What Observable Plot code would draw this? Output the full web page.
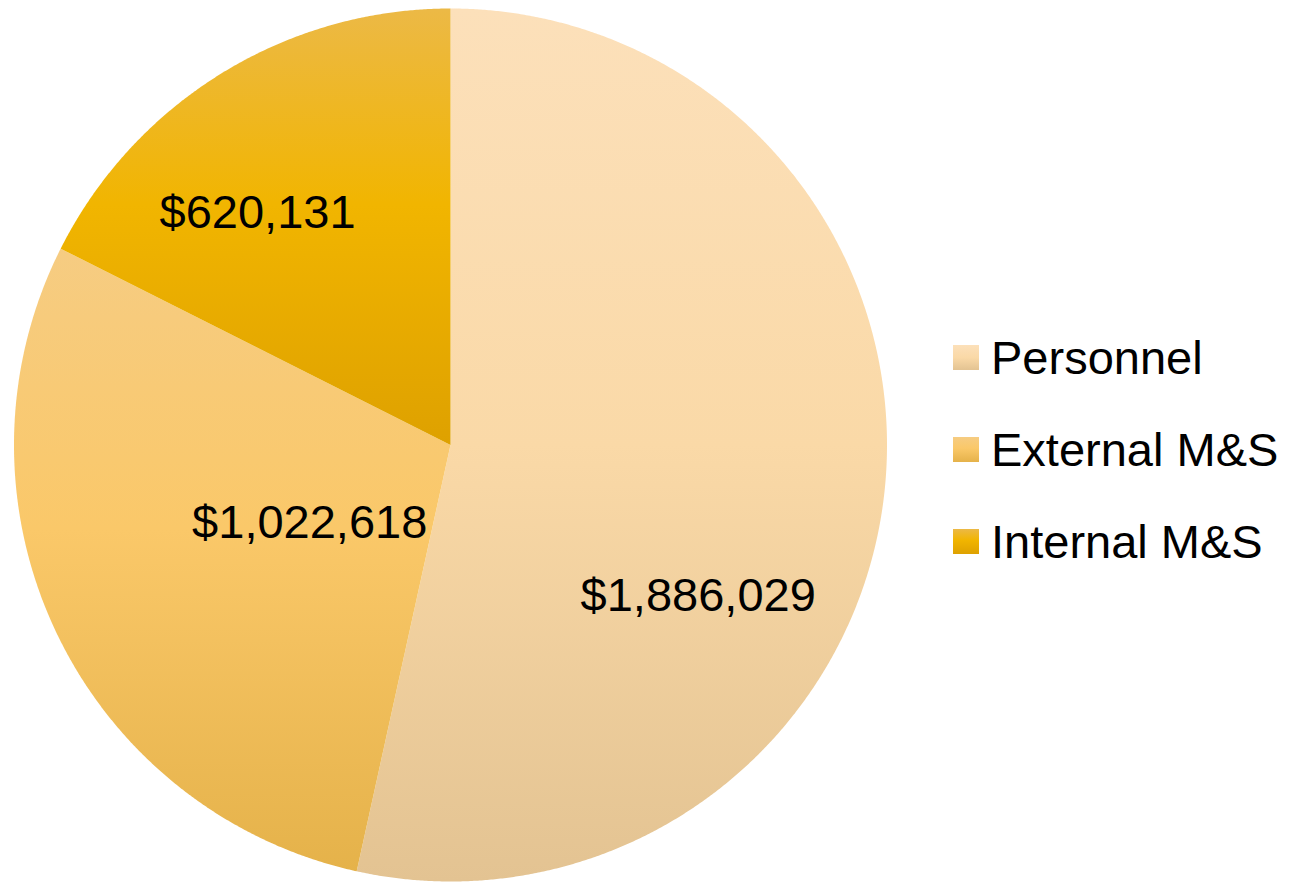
<!DOCTYPE html>
<html>
<head>
<meta charset="utf-8">
<script src="https://cdn.jsdelivr.net/npm/d3@7"></script>
<script src="https://cdn.jsdelivr.net/npm/@observablehq/plot@0.6"></script>
<style>
  body { margin: 0; background: #fff; }
  #wrap { position: relative; width: 1289px; height: 882px; font-family: "Liberation Sans", Arial, sans-serif; }
  #legend { position: absolute; left: 953px; top: 311px; }
  .row { height: 92px; display: flex; align-items: center; }
  .sw { width: 26px; height: 25px; margin-right: 12px; }
  .lab { font-size: 47px; color: #000; line-height: 1; }
</style>
</head>
<body>
<div id="wrap"><div id="legend"></div></div>
<script>
// ---- data ----
const categories = ["Personnel", "External M&S", "Internal M&S"];
const values = [1886029, 1022618, 620131];
const labels = ["$1,886,029", "$1,022,618", "$620,131"];

// ---- style / layout ----
const gradientStops = [
  [["0%", "#FCE0BA"], ["50%", "#FAD9A7"], ["100%", "#E3C392"]],
  [["0%", "#F6CC82"], ["45%", "#FAC869"], ["100%", "#E5B24A"]],
  [["0%", "#ECB946"], ["45%", "#F1B500"], ["100%", "#DEA100"]]
];
// label anchor per slice: angle (deg clockwise from top) and radius fraction
const labelAnchor = [
  {angle: 121.0, r: 0.662},
  {angle: 241.5, r: 0.367},
  {angle: 320.5, r: 0.695}
];

const total = d3.sum(values);
const rad = Math.PI / 180;
const pt = (deg, r = 1) => [r * Math.sin(deg * rad), r * Math.cos(deg * rad)];

let acc = 0;
const slices = categories.map((c, i) => {
  const a0 = acc / total * 360;
  acc += values[i];
  const a1 = acc / total * 360;
  const ring = [[0, 0]];
  const n = Math.max(2, Math.ceil((a1 - a0) / 0.25));
  for (let k = 0; k <= n; k++) ring.push(pt(a0 + (a1 - a0) * k / n));
  ring.push([0, 0]);
  return {type: "Feature", properties: {name: c, i}, geometry: {type: "Polygon", coordinates: [ring]}};
});

const circleRing = d3.range(0, 361, 1).map(a => pt(a));
const circle = {type: "Feature", geometry: {type: "Polygon", coordinates: [circleRing]}};

const labelData = labels.map((t, i) => {
  const [x, y] = pt(labelAnchor[i].angle, labelAnchor[i].r);
  return {t, x, y};
});

const ns = "http://www.w3.org/2000/svg";
const defsMark = () => {
  const defs = document.createElementNS(ns, "defs");
  gradientStops.forEach((stops, i) => {
    const g = document.createElementNS(ns, "linearGradient");
    g.setAttribute("id", "grad" + i);
    g.setAttribute("x1", "0"); g.setAttribute("y1", "0");
    g.setAttribute("x2", "0"); g.setAttribute("y2", "1");
    stops.forEach(([o, c]) => {
      const s = document.createElementNS(ns, "stop");
      s.setAttribute("offset", o);
      s.setAttribute("stop-color", c);
      g.appendChild(s);
    });
    defs.appendChild(g);
  });
  return defs;
};

const chart = Plot.plot({
  width: 900,
  height: 882,
  marginTop: 8,
  marginBottom: 1,
  marginLeft: 13,
  marginRight: 13,
  projection: {type: "reflect-y", domain: circle},
  style: {fontFamily: "'Liberation Sans', Arial, sans-serif", background: "#fff"},
  marks: [
    defsMark,
    ...slices.map((s, i) => Plot.geo([s], {fill: `url(#grad${i})`, stroke: "none"})),
    Plot.text(labelData, {x: "x", y: "y", text: "t", fontSize: 47, fill: "#000", dy: 2})
  ]
});
document.getElementById("wrap").prepend(chart);

// legend
const legend = document.getElementById("legend");
categories.forEach((c, i) => {
  const row = document.createElement("div");
  row.className = "row";
  const sw = document.createElement("div");
  sw.className = "sw";
  sw.style.background = `linear-gradient(to bottom, ${gradientStops[i].map(([o, col]) => col + " " + o).join(", ")})`;
  const lab = document.createElement("span");
  lab.className = "lab";
  lab.textContent = c;
  row.appendChild(sw);
  row.appendChild(lab);
  legend.appendChild(row);
});
</script>
</body>
</html>
